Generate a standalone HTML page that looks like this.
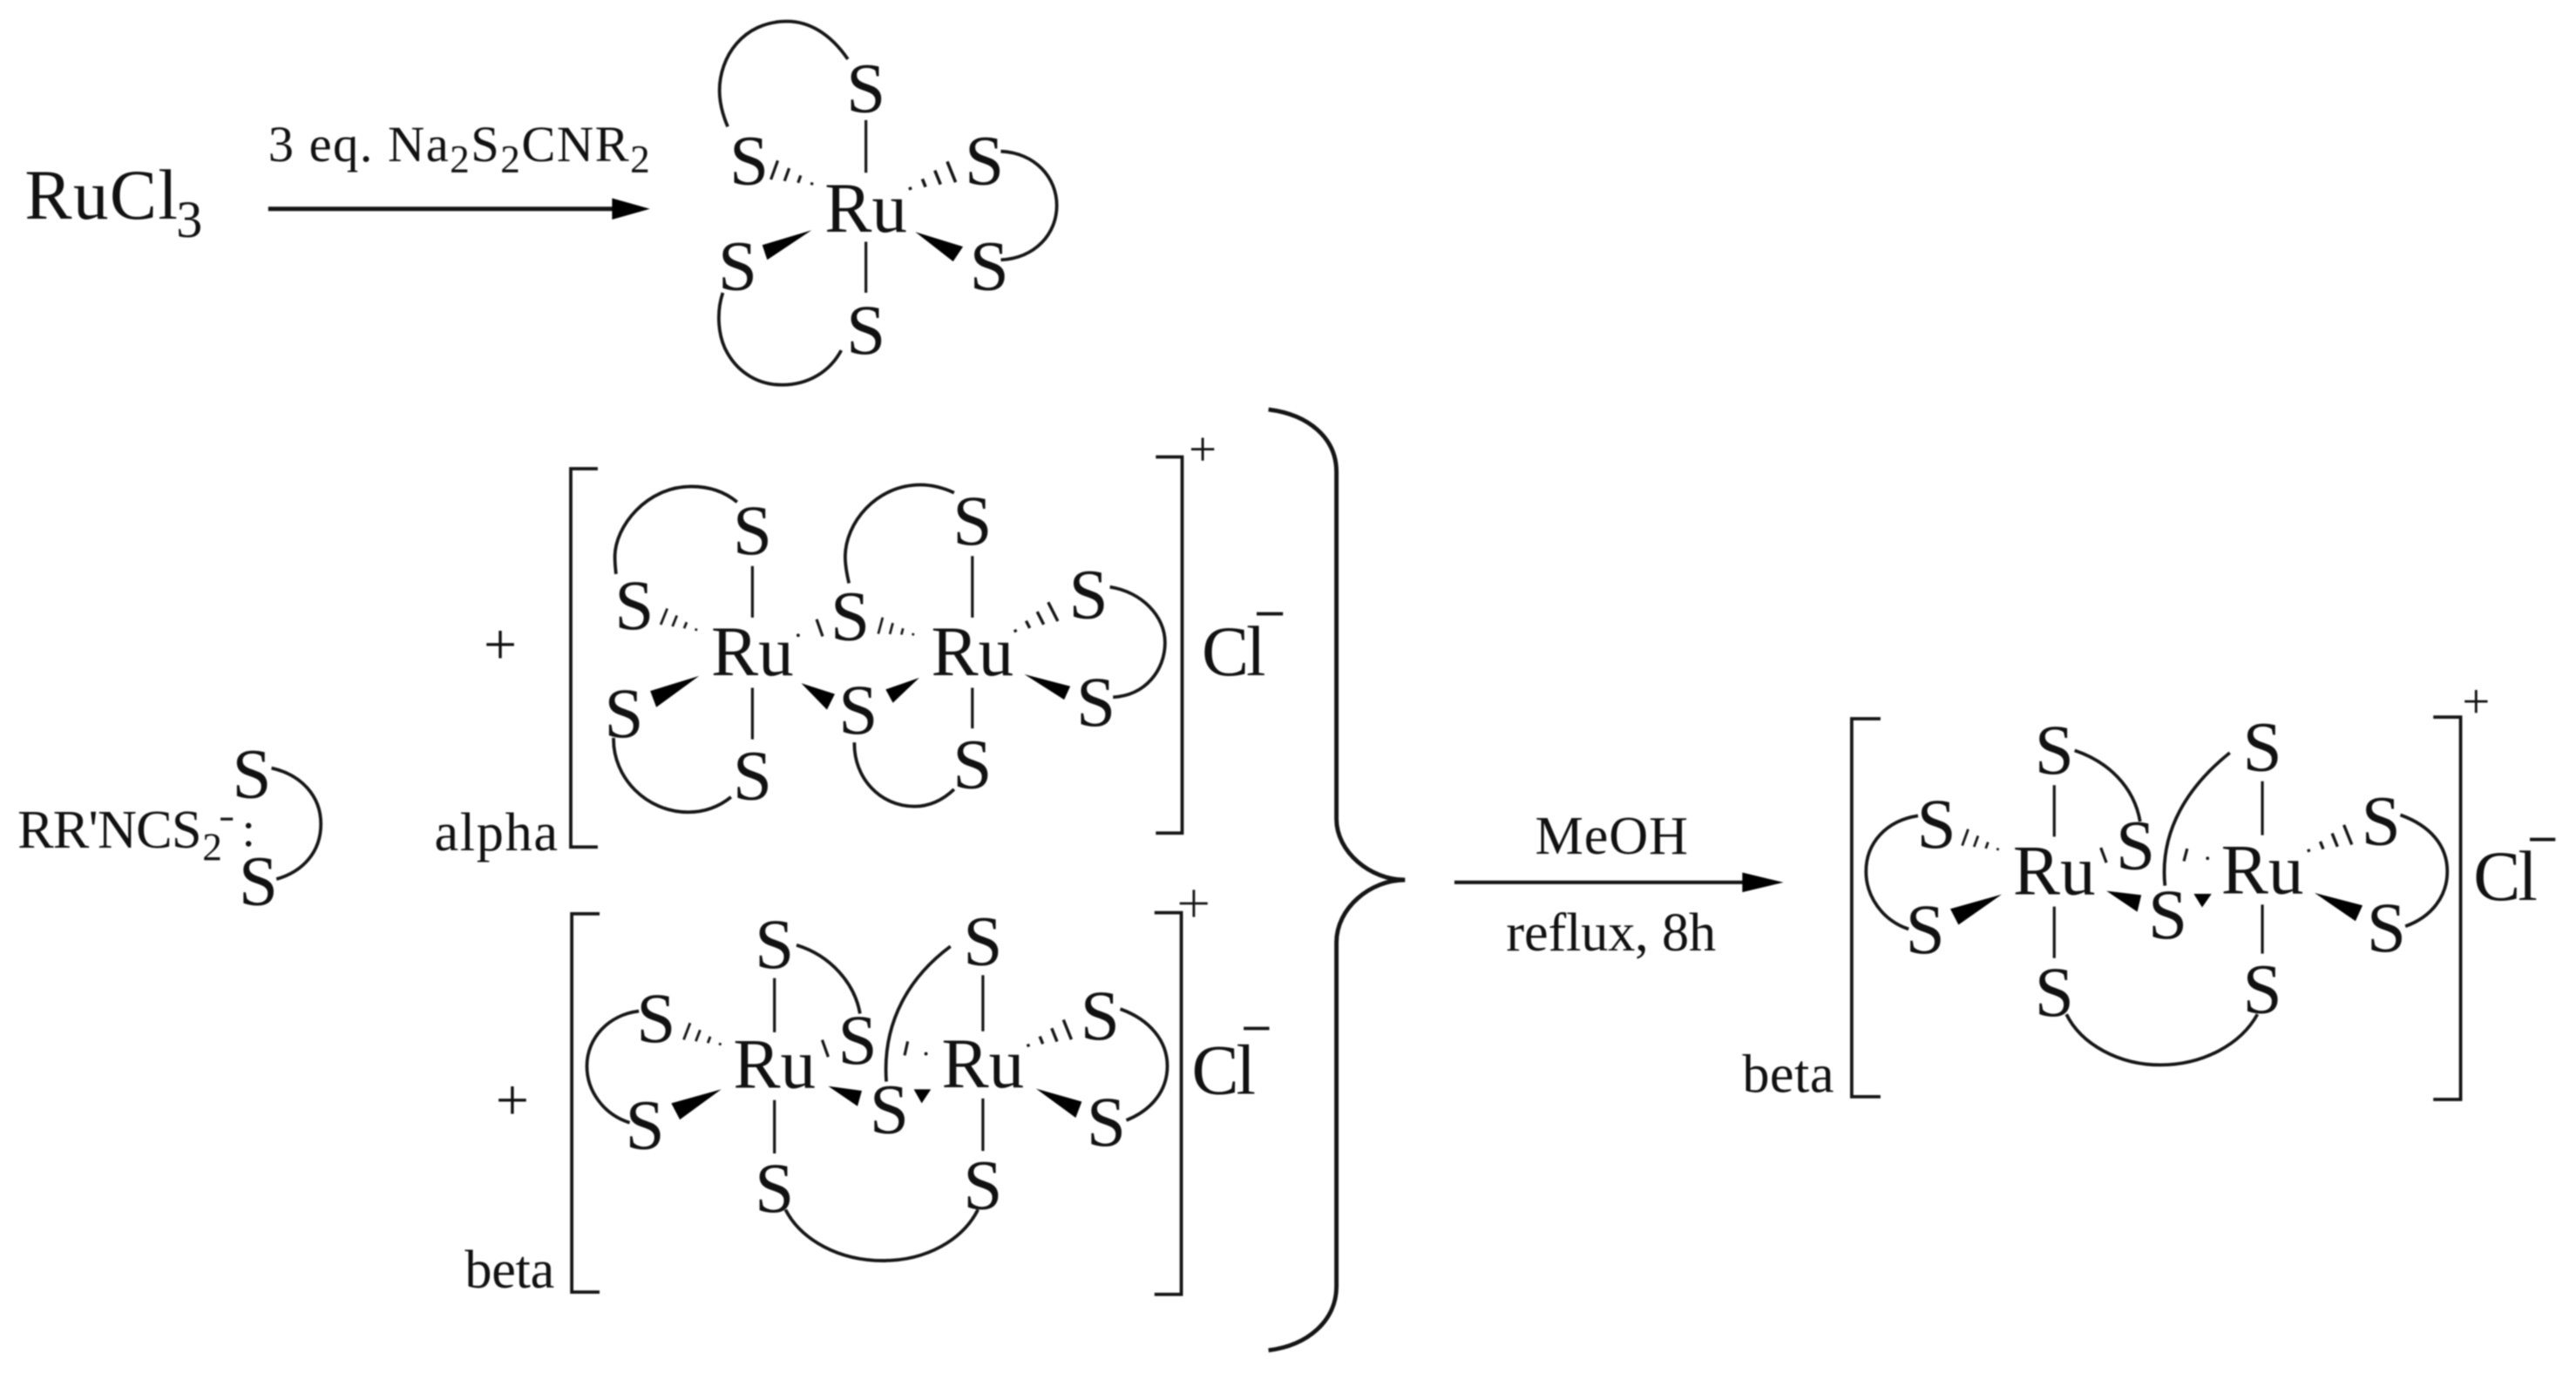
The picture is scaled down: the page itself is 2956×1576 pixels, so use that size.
<!DOCTYPE html>
<html lang="en"><head><meta charset="utf-8"><title>Ruthenium dithiocarbamate scheme</title>
<style>
html,body{margin:0;padding:0;background:#fff}
svg{display:block;filter:blur(.9px)}
text{font-family:"Liberation Serif",serif;fill:#111}
.b{font-size:43px;text-anchor:middle}
.s{font-size:43px}
.m{font-size:33px}
.p{font-size:32px;text-anchor:middle}
.l{fill:none;stroke:#151515;stroke-width:2}
.t{fill:none;stroke:#151515;stroke-width:1.7}
.w{fill:#000}
</style></head><body>
<svg xmlns="http://www.w3.org/2000/svg" width="2956" height="1576" viewBox="0 0 1565.7 834.8">
<defs>
<g id="h" fill="none" stroke="#151515" stroke-width="1.9">
<path d="M1,-.9V.9M10,-2.6V2.6M19,-4.6V4.6M28,-6.8V6.8"/>
</g>
</defs>
<rect width="1565.7" height="834.8" fill="#fff"/>

<!-- Top -->
<text class="s" x="15" y="133" textLength="93" lengthAdjust="spacing">RuCl</text>
<text x="107" y="144" font-size="32">3</text>
<text x="163" y="98" textLength="232" style="font-size:31px">3 eq. Na<tspan dy="7" style="font-size:24px">2</tspan><tspan dy="-7">S</tspan><tspan dy="7" style="font-size:24px">2</tspan><tspan dy="-7">CNR</tspan><tspan dy="7" style="font-size:24px">2</tspan></text>
<path d="M163,127H378" fill="none" stroke="#151515" stroke-width="2.6"/>
<path class="w" d="M395,127L372,120.500V133.500Z"/>

<g transform="translate(-.7,0)">
<text class="b" x="527" y="141">Ru</text>
<text class="b" x="527" y="68">S</text>
<text class="b" x="456" y="112">S</text>
<text class="b" x="599" y="112">S</text>
<text class="b" x="449" y="176">S</text>
<text class="b" x="602" y="176">S</text>
<text class="b" x="527" y="215">S</text>
<path class="t" d="M527,73V105M527,147V178"/>
<use href="#h" transform="translate(495,112) rotate(200) scale(.9)"/>
<use href="#h" transform="translate(553,115) rotate(-22) scale(1)"/>
<polygon class="w" points="494,140 464,149 467,158"/>
<polygon class="w" points="557,141 586,150 580,159"/>
<path class="l" d="M516,36C505,20 492,13 479,13C452,13 438,35 438,55C438,63 440,70 443,77"/>
<path class="l" d="M609,92C630,93 643,108 643,125C643,142 630,157 609,158"/>
<path class="l" d="M440,178C436,190 437,205 443,215C450,227 462,234 476,234C492,234 505,226 512,213"/>
</g>

<!-- Ligand -->
<text class="m" x="10.600" y="515.500" textLength="112">RR'NCS</text>
<text x="123" y="523" font-size="24">2</text>
<path class="t" d="M134,498H141.500"/>
<circle cx="151" cy="502" r="1.700" fill="#111"/><circle cx="151" cy="513" r="1.700" fill="#111"/>
<text class="b" x="153" y="485">S</text>
<text class="b" x="157" y="550">S</text>
<path class="l" d="M165,467C183,471 195,484 195,501C195,518 184,530 168,534.500"/>

<!-- Alpha -->
<path class="l" d="M363.300,285H346.900V515H363.300"/>
<path class="l" d="M702.500,277.800H718.500V506.500H702.500"/>
<text class="p" x="731" y="283" style="font-size:30px">+</text>
<text class="p" x="304" y="404" style="font-size:36px">+</text>
<text class="m" x="264" y="517" textLength="75">alpha</text>
<text class="b" x="457.300" y="410.600">Ru</text>
<text class="b" x="591" y="410.600">Ru</text>
<text class="b" x="457.300" y="337">S</text>
<text class="b" x="385.500" y="382.400">S</text>
<text class="b" x="379.200" y="448">S</text>
<text class="b" x="457.300" y="486">S</text>
<text class="b" x="516.700" y="389">S</text>
<text class="b" x="521.600" y="446">S</text>
<text class="b" x="591" y="331">S</text>
<text class="b" x="591" y="479">S</text>
<text class="b" x="661.600" y="375.800">S</text>
<text class="b" x="666.100" y="441.300">S</text>
<text class="s" x="730.400" y="410.600" textLength="39">Cl</text>
<path class="l" d="M763.800,373.200H779.800"/>
<path class="t" d="M457.300,344.200V375.500M457.300,418.200V449.500M591,338.100V375.500M591,418.200V442.900"/>
<use href="#h" transform="translate(423.800,383.100) rotate(202) scale(.78)"/>
<circle cx="485.100" cy="386.300" r="1" fill="#111"/>
<path class="t" d="M496.300,376.500L500,386.900"/>
<use href="#h" transform="translate(555.700,385.900) rotate(195) scale(.76)"/>
<use href="#h" transform="translate(616.300,384) rotate(-27) scale(.95)"/>
<polygon class="w" points="424.900,411 395.200,420.100 398.900,430"/>
<polygon class="w" points="487,415.400 507.400,422 502.600,431.500"/>
<polygon class="w" points="558.700,412.100 538.300,419.200 542.700,427.300"/>
<polygon class="w" points="622.600,410 650.500,417.300 646.800,425.400"/>
<path class="l" d="M448,305.300C440,298.500 430,295.800 420.100,295.800C393,295.800 373.700,320 373.700,338.500C373.700,342 374,345.500 374.400,349"/>
<path class="l" d="M372.900,448.600C372.400,473 393,493.800 418.300,493.800C428,493.800 437,490.500 444.300,484.600"/>
<path class="l" d="M579.900,299.600C573,296.500 566,294.800 559.500,294.800C532.500,294.800 513.700,318 513.700,338.500C513.700,344 514.800,349.500 516,354.600"/>
<path class="l" d="M519.300,451.400C518.800,473 535,490.300 555.700,490.300C565,490.300 573,486.500 579.900,479.900"/>
<path class="l" d="M674.600,356.900C694,360 708.100,374.500 708.100,390.700C708.100,407.500 696,423 676.500,423.900"/>

<!-- Beta left -->
<path class="l" d="M364.400,555.600H347.500V785.600H364.400"/>
<path class="l" d="M701.700,554.900H718V787H701.700"/>
<path class="l" d="M725.600,541V557.500M717,549.300H734" style="stroke-width:1.5"/>
<text class="p" x="311.400" y="681" style="font-size:36px">+</text>
<text class="m" x="282.500" y="783" textLength="54.500">beta</text>
<text class="b" x="470.700" y="661.400">Ru</text>
<text class="b" x="597.400" y="661">Ru</text>
<text class="b" x="470.700" y="588.600">S</text>
<text class="b" x="597.400" y="586.700">S</text>
<text class="b" x="398.700" y="633.600">S</text>
<text class="b" x="392" y="698.400">S</text>
<text class="b" x="521.200" y="646.800">S</text>
<text class="b" x="540.500" y="689">S</text>
<text class="b" x="668.600" y="631.800">S</text>
<text class="b" x="672.400" y="696.500">S</text>
<text class="b" x="470.700" y="736.900">S</text>
<text class="b" x="597.400" y="735">S</text>
<text class="s" x="724.300" y="665.100" textLength="39">Cl</text>
<path class="l" d="M755.900,625.300H771.500"/>
<path class="t" d="M470.700,594.700V627.600M470.700,668.900V701.300M597.400,592.900V627M597.400,667.900V699.800"/>
<use href="#h" transform="translate(438.400,635.100) rotate(201) scale(.8)"/>
<path class="t" d="M499.700,632.300L503.400,642.600M551.700,633.200L549.800,641.700"/>
<circle cx="562.800" cy="640.700" r="1" fill="#111"/>
<use href="#h" transform="translate(624.100,636) rotate(-22) scale(.95)"/>
<polygon class="w" points="438.400,662.300 408,670.800 413.200,680.700"/>
<polygon class="w" points="503.400,660.400 523.800,663.200 521.200,672.600"/>
<polygon class="w" points="555.400,662.300 565.800,662.300 560.200,670.800"/>
<polygon class="w" points="629.700,661.900 657.500,669.800 653.800,679.600"/>
<path class="l" d="M484.100,574.600C505,581 519.500,598 522.700,616.300"/>
<path class="l" d="M577.700,575.400C554,593 536,620 538.700,657.600"/>
<path class="l" d="M388.300,614.800C370,617 356.700,631 356.700,648.200C356.700,663 366.500,677.500 382.700,682.600"/>
<path class="l" d="M680.900,613.500C699,620 709.500,633 709.500,648.200C709.500,663 700,675 684.600,681.100"/>
<path class="l" d="M477.400,735.500C487,754 510,766.500 536.800,766.500C563,766.500 585,754 594.400,735.500"/>

<!-- Brace -->
<path d="M771,249C795,252 812.300,266 812.300,287L812.300,498C812.300,518 833,535 854,535C833,535 812.300,552 812.300,573L812.300,782C812.300,803 795,818 771,821" fill="none" stroke="#151515" stroke-width="2.600"/>

<!-- Arrow 2 -->
<text class="m" x="933" y="519" textLength="93">MeOH</text>
<text class="m" x="915.500" y="578" textLength="127.500">reflux, 8h</text>
<path d="M884,536.500H1064" fill="none" stroke="#151515" stroke-width="2.200"/>
<path class="w" d="M1084,536.500L1059,530.500V542.500Z"/>

<!-- Beta right -->
<path class="l" d="M1143,437H1125.500V666.800H1143"/>
<path class="l" d="M1479,436H1495.600V668.500H1479"/>
<text class="p" x="1505" y="436.500" style="font-size:30px">+</text>
<text class="m" x="1059" y="664" textLength="55.700">beta</text>
<text class="b" x="1248.600" y="543.800">Ru</text>
<text class="b" x="1375.100" y="543.200">Ru</text>
<text class="b" x="1248.600" y="470.500">S</text>
<text class="b" x="1375.100" y="468.400">S</text>
<text class="b" x="1177" y="515.300">S</text>
<text class="b" x="1170.200" y="579.400">S</text>
<text class="b" x="1298" y="528.400">S</text>
<text class="b" x="1317.600" y="570.600">S</text>
<text class="b" x="1447.200" y="513.500">S</text>
<text class="b" x="1450.500" y="578.500">S</text>
<text class="b" x="1248.600" y="617.700">S</text>
<text class="b" x="1375.100" y="615.900">S</text>
<text class="s" x="1503.400" y="547.300" textLength="39">Cl</text>
<path class="l" d="M1537.700,510.400H1553.200"/>
<path class="t" d="M1248.600,477.400V508.700M1248.600,551.200V582.500M1375.100,475V507.800M1375.100,550V579.800"/>
<use href="#h" transform="translate(1215,516.600) rotate(200) scale(.78)"/>
<path class="t" d="M1276.900,515.400L1280.300,524.500M1329.400,516L1327.400,523.600"/>
<circle cx="1341.800" cy="521.900" r="1" fill="#111"/>
<use href="#h" transform="translate(1402.400,517.500) rotate(-22) scale(.95)"/>
<polygon class="w" points="1216.700,543.800 1185.400,552.600 1190.400,562.300"/>
<polygon class="w" points="1280.300,541.700 1301.500,544.200 1299.100,554.400"/>
<polygon class="w" points="1333.400,543.500 1344.200,543.500 1338.500,551.700"/>
<polygon class="w" points="1406.800,542.900 1436,550.500 1431.700,560"/>
<path class="l" d="M1261,456.300C1281,463 1297,478 1300.800,499.500"/>
<path class="l" d="M1355.300,457.700C1330,478 1312.500,505 1315.900,538.500"/>
<path class="l" d="M1165.800,496C1146,499 1134.200,513 1134.200,529.800C1134.200,545 1144,559.500 1160.100,564.900"/>
<path class="l" d="M1459,495.500C1477,502 1487.500,514 1487.500,529.800C1487.500,545 1478,557.500 1462,563.200"/>
<path class="l" d="M1256,616.700C1265,635 1288,647.500 1313.200,647.500C1339,647.500 1362,635 1372.100,616.700"/>
</svg>
</body></html>
